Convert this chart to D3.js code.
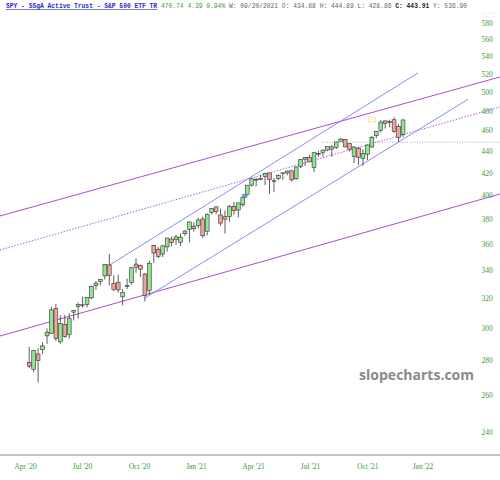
<!DOCTYPE html>
<html><head><meta charset="utf-8">
<script src="https://cdn.jsdelivr.net/npm/d3@7/dist/d3.min.js"></script>
<style>body{margin:0;background:#fff}svg{display:block}</style>
</head><body>
<svg id="chart" width="500" height="480"></svg>
<script>
// Weekly bars (SPY, dividend-adjusted)
const weeks = ["2020-04-27","2020-05-04","2020-05-11","2020-05-18","2020-05-26","2020-06-01","2020-06-08","2020-06-15","2020-06-22","2020-06-29",
"2020-07-06","2020-07-13","2020-07-20","2020-07-27","2020-08-03","2020-08-10","2020-08-17","2020-08-24","2020-08-31","2020-09-08",
"2020-09-14","2020-09-21","2020-09-28","2020-10-05","2020-10-12","2020-10-19","2020-10-26","2020-11-02","2020-11-09","2020-11-16",
"2020-11-23","2020-11-30","2020-12-07","2020-12-14","2020-12-21","2020-12-28","2021-01-04","2021-01-11","2021-01-19","2021-01-25",
"2021-02-01","2021-02-08","2021-02-16","2021-02-22","2021-03-01","2021-03-08","2021-03-15","2021-03-22","2021-03-29","2021-04-05",
"2021-04-12","2021-04-19","2021-04-26","2021-05-03","2021-05-10","2021-05-17","2021-05-24","2021-06-01","2021-06-07","2021-06-14",
"2021-06-21","2021-06-28","2021-07-06","2021-07-12","2021-07-19","2021-07-26","2021-08-02","2021-08-09","2021-08-16","2021-08-23",
"2021-08-30","2021-09-07","2021-09-13","2021-09-20","2021-09-27","2021-10-04","2021-10-11","2021-10-18","2021-10-25","2021-11-01",
"2021-11-08","2021-11-15","2021-11-22","2021-11-29","2021-12-06"];
const open = [278.79,274.51,283.89,286.54,295.23,296.88,313.11,291.40,302.51,296.04,
310.74,314.43,315.71,315.90,320.51,329.10,331.92,336.03,344.11,330.72,
331.48,321.17,328.59,331.39,344.73,343.80,337.37,325.61,358.91,355.96,
352.31,357.79,363.89,363.52,361.43,368.13,371.67,374.18,374.67,379.95,
370.09,385.49,390.14,383.31,381.85,382.11,390.50,387.49,391.84,400.84,
408.86,413.55,414.73,416.70,419.75,412.69,414.63,419.82,419.84,421.67,
414.55,425.80,432.39,434.04,424.83,437.90,438.93,441.04,444.16,443.74,
449.53,451.26,447.20,434.88,442.81,433.00,437.16,443.97,455.20,460.30,
469.70,469.00,470.89,464.07,456.13];
const high = [288.33,286.45,287.47,291.26,300.03,314.14,316.23,308.63,308.90,310.08,
312.22,317.29,321.41,320.82,328.92,332.26,333.67,344.48,352.36,336.54,
336.95,326.60,334.03,342.52,349.10,344.47,338.21,347.29,359.32,357.74,
359.12,364.71,365.89,367.28,368.39,371.03,377.79,377.43,381.22,382.11,
384.70,389.09,390.35,388.43,387.13,391.81,394.26,393.83,398.07,408.99,
415.19,415.53,417.99,420.07,419.99,415.48,418.51,420.17,421.87,422.69,
425.72,432.71,434.45,436.52,438.89,440.39,441.52,444.51,445.68,449.21,
452.60,451.66,447.48,444.89,444.05,441.68,446.26,454.67,459.56,470.65,
470.23,470.94,473.54,466.56,470.90];
const low = [275.25,272.93,266.93,283.79,290.15,296.48,291.97,290.15,294.09,293.61,
305.15,306.45,313.57,313.95,319.51,326.10,329.25,333.41,328.91,325.11,
324.13,315.35,326.59,329.73,338.36,335.34,318.12,322.69,345.64,349.23,
349.94,354.18,358.21,359.40,358.52,366.41,361.28,369.77,372.35,364.70,
366.79,383.74,383.98,374.56,368.27,377.72,383.39,381.40,390.26,400.76,
407.53,407.92,413.59,408.99,401.37,402.70,413.09,413.57,417.59,412.00,
413.37,424.19,426.15,429.54,420.62,434.59,434.70,439.90,434.72,442.02,
449.27,443.88,439.61,428.86,427.23,426.36,431.54,443.27,452.39,458.20,
462.04,463.37,457.77,448.92,453.56];
const close = [276.51,285.95,279.92,288.88,297.56,312.25,293.46,303.15,294.71,306.67,
311.94,315.99,315.17,320.71,328.61,330.84,333.44,344.34,336.47,326.45,
326.05,324.16,329.20,342.03,342.46,340.97,322.00,345.29,353.12,350.39,
358.61,364.71,361.21,365.60,365.42,370.25,377.56,372.06,379.17,366.48,
383.95,388.83,386.25,376.67,379.91,390.24,386.95,393.41,398.01,408.82,
414.55,414.03,414.59,419.38,413.87,412.24,417.31,419.85,421.55,413.59,
425.24,432.33,434.13,429.96,438.53,437.11,441.07,444.49,441.94,448.81,
451.63,444.01,441.40,443.91,434.24,437.86,445.87,453.12,459.25,468.53,
467.27,468.89,458.97,453.42,470.74];

const yTickValues = [240,260,280,300,320,340,360,380,400,420,440,460,480,500,520,540,560,580];
const xTickLabels = ["Apr '20","Jul '20","Oct '20","Jan '21","Apr '21","Jul '21","Oct '21","Jan '22"];
const xTickBars = [-0.94,11.87,24.67,37.48,50.29,63.10,75.98,88.38];

// Drawn trend lines: endpoints as [bar index, price]
const upperMagenta = [[-6.56,382.5],[105.8,516.5]];
const lowerMagenta = [[-6.56,295.1],[105.8,401.1]];
const midDotted    = [[-6.56,355.4],[105.8,484.1]];
const upperBlue    = [[17.73,343.3],[87.37,521.0]];
const lowerBlue    = [[26.02,320.4],[98.61,492.2]];
const levelLine    = [[65.8,448.5],[105.8,448.5]];
// small chart markers: [bar from, bar to, price low, price high]
const blueMarker   = [47.95, 48.95, 398.3, 400.8];
const noteMarker   = [76.2, 77.8, 468.6, 473.7];

const headerTitle = "SPY - SSgA Active Trust - S&P 500 ETF TR";
const headerQuote = "470.74 4.39 0.94%";
const headerBar = "W: 09/20/2021 O: 434.88 H: 444.89 L: 428.86 ";
const headerClose = "C: 443.91";
const headerExtra = " Y: 536.90";

const svg = d3.select("#chart");
const x = d3.scaleLinear().domain([0, 84]).range([29.2, 29.2 + 4.45 * 84]);
const y = d3.scaleLog().domain([240, 580]).range([431.7, 23.3]);

// watermark
svg.append("text").attr("x", 474).attr("y", 380).attr("text-anchor", "end")
  .attr("font-family", "'Open Sans', sans-serif").attr("font-weight", "bold")
  .attr("font-size", 14).attr("fill", "#8a8a8a").text("slopecharts.com");

// lines
const line = d3.line().x(d => x(d[0])).y(d => y(d[1]));
svg.append("path").attr("d", line(levelLine)).attr("stroke", "#b0b0b0").attr("stroke-width", 1)
  .attr("stroke-dasharray", "1,1.5").attr("fill", "none");
svg.append("path").attr("d", line(upperMagenta)).attr("stroke", "#b048d8").attr("stroke-width", 1).attr("fill", "none");
svg.append("path").attr("d", line(lowerMagenta)).attr("stroke", "#b048d8").attr("stroke-width", 1).attr("fill", "none");
svg.append("path").attr("d", line(midDotted)).attr("stroke", "#b860dc").attr("stroke-width", 1)
  .attr("stroke-dasharray", "1.5,1.5").attr("fill", "none");
svg.append("path").attr("d", line(upperBlue)).attr("stroke", "#7c7cf0").attr("stroke-width", 0.9).attr("fill", "none");
svg.append("path").attr("d", line(lowerBlue)).attr("stroke", "#7c7cf0").attr("stroke-width", 0.9).attr("fill", "none");

// candles
const bars = weeks.map((w, i) => ({i, o: open[i], h: high[i], l: low[i], c: close[i]}));
const g = svg.append("g");
g.selectAll("line.wick").data(bars).join("line").attr("class", "wick")
  .attr("x1", d => x(d.i)).attr("x2", d => x(d.i))
  .attr("y1", d => y(d.h)).attr("y2", d => y(d.l))
  .attr("stroke", "#333").attr("stroke-width", 0.8);
const bw = 3.8;
g.selectAll("rect.body").data(bars).join("rect").attr("class", "body")
  .attr("x", d => x(d.i) - bw / 2).attr("width", bw)
  .attr("y", d => y(Math.max(d.o, d.c)))
  .attr("height", d => Math.max(0.8, y(Math.min(d.o, d.c)) - y(Math.max(d.o, d.c))))
  .attr("fill", d => d.c >= d.o ? "#8ee68e" : "#f0a39c")
  .attr("stroke", "#333").attr("stroke-width", 0.6);

// markers
svg.append("rect").attr("x", x(blueMarker[0])).attr("width", x(blueMarker[1]) - x(blueMarker[0]))
  .attr("y", y(blueMarker[3])).attr("height", y(blueMarker[2]) - y(blueMarker[3]))
  .attr("fill", "#6f8fe8").attr("stroke", "#4a5fc0").attr("stroke-width", 0.5);
svg.append("rect").attr("x", x(noteMarker[0])).attr("width", x(noteMarker[1]) - x(noteMarker[0]))
  .attr("y", y(noteMarker[3])).attr("height", y(noteMarker[2]) - y(noteMarker[3]))
  .attr("fill", "#fffbea").attr("stroke", "#f0dc9a").attr("stroke-width", 0.7);

// axes
const yAxis = d3.axisRight(y).tickValues(yTickValues).tickSize(0).tickFormat(d3.format("d"));
const ya = svg.append("g").attr("transform", "translate(487,0)").call(yAxis);
ya.select(".domain").remove();
ya.selectAll("text").attr("x", 0).attr("text-anchor", "middle")
  .attr("font-family", "'Liberation Serif', serif").attr("font-size", 7.5).attr("fill", "#3d9a3d");

const xAxis = d3.axisBottom(x).tickValues(xTickBars).tickSize(0).tickPadding(8.7)
  .tickFormat((d, i) => xTickLabels[i]);
const xa = svg.append("g").attr("transform", "translate(0,455)").call(xAxis);
xa.select(".domain").remove();
xa.selectAll("text").attr("font-family", "'Liberation Serif', serif").attr("font-size", 7.5).attr("fill", "#3d9a3d");
svg.append("line").attr("x1", 0).attr("x2", 500).attr("y1", 455).attr("y2", 455)
  .attr("stroke", "#8c8c8c").attr("stroke-width", 1.2);

// header
const ht = svg.append("text").attr("x", 6).attr("y", 8)
  .attr("font-family", "'Liberation Mono', monospace").attr("font-size", 6.3).attr("xml:space", "preserve");
ht.append("tspan").attr("fill", "#2a2ac8").attr("font-weight", "bold").attr("text-decoration", "underline").text(headerTitle);
ht.append("tspan").attr("fill", "#3a9a3a").text(" " + headerQuote);
ht.append("tspan").attr("fill", "#666").text(" " + headerBar);
ht.append("tspan").attr("fill", "#222").attr("font-weight", "bold").text(headerClose);
ht.append("tspan").attr("fill", "#666").text(headerExtra);
svg.append("rect").attr("x", 483).attr("y", 13).attr("width", 11).attr("height", 4)
  .attr("fill", "none").attr("stroke", "#e4e4e4").attr("stroke-width", 0.6);
</script>
</body></html>
